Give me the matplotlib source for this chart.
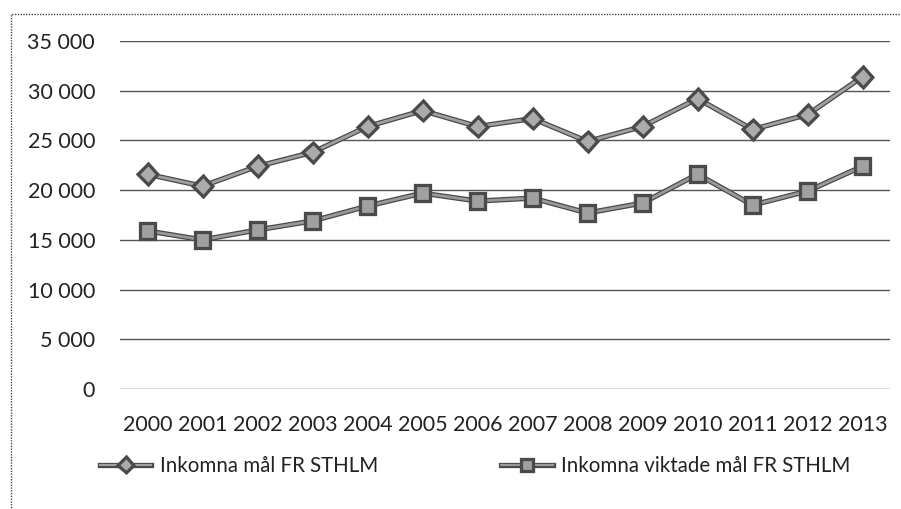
import matplotlib
matplotlib.use("Agg")
import matplotlib.pyplot as plt
import matplotlib.patheffects as pe
from matplotlib.patches import Rectangle

years = ["2000", "2001", "2002", "2003", "2004", "2005", "2006",
         "2007", "2008", "2009", "2010", "2011", "2012", "2013"]
inkomna = [21600, 20400, 22400, 23800, 26400, 28000, 26400,
           27200, 24900, 26400, 29200, 26100, 27600, 31400]
viktade = [15900, 15000, 16000, 16900, 18400, 19700, 18900,
           19200, 17700, 18700, 21600, 18500, 19900, 22400]
yticks = [0, 5000, 10000, 15000, 20000, 25000, 30000, 35000]
ytick_labels = ["0", "5 000", "10 000", "15 000", "20 000", "25 000", "30 000", "35 000"]
series_names = ["Inkomna mål FR STHLM", "Inkomna viktade mål FR STHLM"]

plt.rcParams['font.family'] = ['Lato', 'DejaVu Sans']
W, H = 901, 509
fig = plt.figure(figsize=(W / 100, H / 100), dpi=100)
fig.patch.set_facecolor('white')

# outer frame
fig.patches.append(Rectangle((11 / W, -0.02), 1.05, 1 - 14 / H + 0.02,
                             transform=fig.transFigure, fill=False,
                             edgecolor='#444444', linewidth=1.0, linestyle=(0, (1, 1))))

left, right = 120 / W, 890 / W
bottom, top = 1 - 389 / H, 1 - 41 / H
ax = fig.add_axes([left, bottom, right - left, top - bottom])

x = list(range(len(years)))
outline = [pe.Stroke(linewidth=3.8, foreground='#4a4a4a'), pe.Normal()]
l1, = ax.plot(x, inkomna, color='#a0a0a0', linewidth=2.0, marker='D', markersize=9,
              markerfacecolor='#ababab', markeredgecolor='#4a4a4a', markeredgewidth=0.9,
              label=series_names[0], zorder=3)
l1.set_path_effects(outline)
l2, = ax.plot(x, viktade, color='#999999', linewidth=2.0, marker='s', markersize=10,
              markerfacecolor='#a0a0a0', markeredgecolor='#4a4a4a', markeredgewidth=0.9,
              label=series_names[1], zorder=3)
l2.set_path_effects(outline)

ax.set_xlim(-0.5, len(years) - 0.5)
ax.set_ylim(0, 35000)
ax.set_yticks(yticks)
ax.set_yticklabels(ytick_labels)
ax.set_xticks(x)
ax.set_xticklabels(years)
ax.yaxis.grid(True, color='#555555', linewidth=1.0)
ax.set_axisbelow(True)
for s in ax.spines.values():
    s.set_visible(False)
ax.tick_params(axis='both', length=0, labelsize=15.5, colors='#222222')
ax.tick_params(axis='y', pad=18)
ax.tick_params(axis='x', pad=19)

leg = fig.legend(loc='center left', bbox_to_anchor=(100 / W, 1 - 466 / H), ncol=2,
                 frameon=False, fontsize=14.8, handlelength=2.5, handletextpad=0.4,
                 columnspacing=6.0, borderpad=0, borderaxespad=0, markerscale=0.75)
for t in leg.get_texts():
    t.set_color('#222222')
for h in leg.legend_handles:
    h.set_linewidth(1.5)

fig.savefig('out.png', dpi=100, facecolor='white')
